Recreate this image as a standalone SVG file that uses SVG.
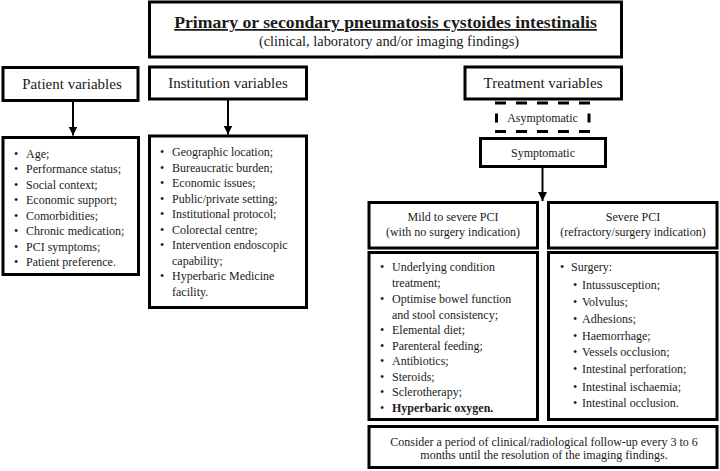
<svg xmlns="http://www.w3.org/2000/svg" width="720" height="471" viewBox="0 0 720 471">
<defs>
<marker id="arr" viewBox="0 0 10 10" refX="10" refY="5" markerWidth="9" markerHeight="9" markerUnits="userSpaceOnUse" orient="auto">
<path d="M0,0 L10,5 L0,10 z" fill="#000"/>
</marker>
</defs>
<style>
text{font-family:"Liberation Serif","Times New Roman",serif;fill:#1a1a1a;}
.box{fill:#fff;stroke:#000;stroke-width:3;}
.h{font-size:15px;text-anchor:middle;}
.s{font-size:12px;text-anchor:middle;}
.l{font-size:12px;}
.dash{stroke:#000;stroke-width:3;fill:none;}
.conn{stroke:#000;stroke-width:2;fill:none;}
</style>
<rect width="720" height="471" fill="#fff"/>

<g id="title">
<rect class="box" x="149.5" y="2" width="472" height="55"/>
<text x="385.5" y="28" font-size="17.7" font-weight="bold" text-anchor="middle" text-decoration="underline">Primary or secondary pneumatosis cystoides intestinalis</text>
<text x="389" y="46" font-size="14.4" text-anchor="middle">(clinical, laboratory and/or imaging findings)</text>
</g>

<g id="patient-variables">
<rect class="box" x="3" y="67.5" width="135" height="33"/>
<text class="h" x="72" y="89">Patient variables</text>
</g>

<g id="institution-variables">
<rect class="box" x="149.5" y="67" width="157" height="32"/>
<text class="h" x="228" y="88">Institution variables</text>
</g>

<g id="treatment-variables">
<rect class="box" x="465" y="67" width="156.5" height="32"/>
<text class="h" x="543" y="88">Treatment variables</text>
</g>

<g id="patient-list">
<rect class="box" x="3" y="137.5" width="135.5" height="137"/>
<g class="l">
<text x="14" y="157.5">•</text><text x="26" y="157.5">Age;</text>
<text x="14" y="173">•</text><text x="26" y="173">Performance status;</text>
<text x="14" y="188.5">•</text><text x="26" y="188.5">Social context;</text>
<text x="14" y="204">•</text><text x="26" y="204">Economic support;</text>
<text x="14" y="219.5">•</text><text x="26" y="219.5">Comorbidities;</text>
<text x="14" y="235">•</text><text x="26" y="235">Chronic medication;</text>
<text x="14" y="250.5">•</text><text x="26" y="250.5">PCI symptoms;</text>
<text x="14" y="266">•</text><text x="26" y="266">Patient preference.</text>
</g>
</g>

<g id="institution-list">
<rect class="box" x="149.5" y="136" width="157" height="171.5"/>
<g class="l">
<text x="160" y="156">•</text><text x="172" y="156">Geographic location;</text>
<text x="160" y="171.5">•</text><text x="172" y="171.5">Bureaucratic burden;</text>
<text x="160" y="187">•</text><text x="172" y="187">Economic issues;</text>
<text x="160" y="202.5">•</text><text x="172" y="202.5">Public/private setting;</text>
<text x="160" y="218">•</text><text x="172" y="218">Institutional protocol;</text>
<text x="160" y="233.5">•</text><text x="172" y="233.5">Colorectal centre;</text>
<text x="160" y="249">•</text><text x="172" y="249">Intervention endoscopic</text>
<text x="172" y="264.5">capability;</text>
<text x="160" y="280">•</text><text x="172" y="280">Hyperbaric Medicine</text>
<text x="172" y="295.5">facility.</text>
</g>
</g>

<g id="asymptomatic">
<line class="dash" x1="495" y1="103" x2="590" y2="103" stroke-dasharray="11 10"/>
<line class="dash" x1="495" y1="131.5" x2="590" y2="131.5" stroke-dasharray="11 10"/>
<line class="dash" x1="496.5" y1="113.5" x2="496.5" y2="122.5"/>
<line class="dash" x1="589" y1="113.5" x2="589" y2="122.5"/>
<text class="s" x="542.5" y="121.5">Asymptomatic</text>
</g>

<g id="symptomatic">
<rect class="box" x="480.5" y="138.5" width="125" height="28"/>
<text class="s" x="543" y="157">Symptomatic</text>
</g>

<g id="mild-header">
<rect class="box" x="369" y="202.5" width="168.5" height="45.5"/>
<text class="s" x="453" y="221">Mild to severe PCI</text>
<text class="s" x="453" y="236">(with no surgery indication)</text>
</g>

<g id="severe-header">
<rect class="box" x="548.5" y="202.5" width="168.5" height="45.5"/>
<text class="s" x="633" y="221">Severe PCI</text>
<text class="s" x="633" y="236">(refractory/surgery indication)</text>
</g>

<g id="mild-list">
<rect class="box" x="369" y="252.5" width="168.5" height="167"/>
<g class="l">
<text x="380" y="271">•</text><text x="392" y="271">Underlying condition</text>
<text x="392" y="287">treatment;</text>
<text x="380" y="303">•</text><text x="392" y="303">Optimise bowel function</text>
<text x="392" y="319">and stool consistency;</text>
<text x="380" y="334">•</text><text x="392" y="334">Elemental diet;</text>
<text x="380" y="350">•</text><text x="392" y="350">Parenteral feeding;</text>
<text x="380" y="365">•</text><text x="392" y="365">Antibiotics;</text>
<text x="380" y="381">•</text><text x="392" y="381">Steroids;</text>
<text x="380" y="396">•</text><text x="392" y="396">Sclerotherapy;</text>
<text x="380" y="412">•</text><text x="392" y="412" font-weight="bold">Hyperbaric oxygen.</text>
</g>
</g>

<g id="severe-list">
<rect class="box" x="548.5" y="252.5" width="168.5" height="167"/>
<g class="l">
<text x="560" y="271">•</text><text x="571" y="271">Surgery:</text>
<text x="573" y="289">•</text><text x="582" y="289">Intussusception;</text>
<text x="573" y="306">•</text><text x="582" y="306">Volvulus;</text>
<text x="573" y="322.5">•</text><text x="582" y="322.5">Adhesions;</text>
<text x="573" y="340">•</text><text x="582" y="340">Haemorrhage;</text>
<text x="573" y="356">•</text><text x="582" y="356">Vessels occlusion;</text>
<text x="573" y="373">•</text><text x="582" y="373">Intestinal perforation;</text>
<text x="573" y="391">•</text><text x="582" y="391">Intestinal ischaemia;</text>
<text x="573" y="407">•</text><text x="582" y="407">Intestinal occlusion.</text>
</g>
</g>

<g id="follow-up">
<rect class="box" x="369" y="426.5" width="348" height="41"/>
<text class="s" x="544" y="446">Consider a period of clinical/radiological follow-up every 3 to 6</text>
<text class="s" x="544" y="458.5">months until the resolution of the imaging findings.</text>
</g>

<g id="connectors">
<line class="conn" x1="73" y1="101" x2="73" y2="135.5" marker-end="url(#arr)"/>
<line class="conn" x1="228" y1="100" x2="228" y2="134.5" marker-end="url(#arr)"/>
<line class="conn" x1="542.5" y1="168" x2="542.5" y2="201" marker-end="url(#arr)"/>
</g>
</svg>
